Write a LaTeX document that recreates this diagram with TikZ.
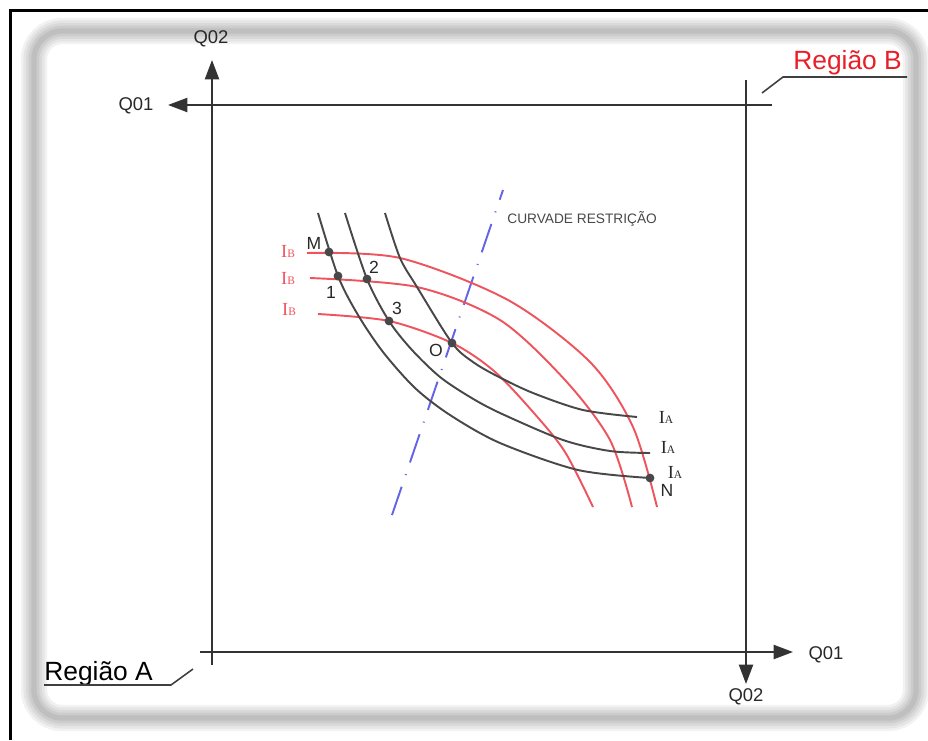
\documentclass[tikz,border=0pt]{standalone}
\usepackage{fontspec}
\setmainfont{Liberation Sans}
\newfontfamily\serifI{Liberation Serif}
\usetikzlibrary{arrows.meta}
\definecolor{redc}{RGB}{238,84,94}
\definecolor{redt}{RGB}{232,30,40}
\definecolor{darkc}{RGB}{72,72,72}
\definecolor{bluec}{RGB}{100,100,232}
\definecolor{txtc}{RGB}{40,40,40}
\tikzset{
  axis/.style={line width=1.1pt, black!80},
  arr/.style={-{Triangle[length=11pt,width=8pt]}},
  blk/.style={line width=1.1pt, darkc},
  redcurve/.style={line width=1.1pt, redc},
  lbl/.style={inner sep=0pt, text=txtc, font=\fontsize{10.5}{12}\selectfont},
  ptlbl/.style={inner sep=0pt, text=txtc, font=\fontsize{10}{12}\selectfont},
  reg/.style={inner sep=0pt, anchor=base west, font=\fontsize{15}{18}\selectfont},
  dotp/.style={circle, fill=darkc, inner sep=0pt, minimum size=5pt},
  ilbl/.style={inner sep=0pt, font=\serifI\fontsize{10.5}{12}\selectfont},
  restr/.style={line width=1.1pt, bluec, dash pattern=on 17pt off 7pt on 0.6pt off 7pt}
}
\begin{document}
\begin{tikzpicture}[x=0.02cm,y=-0.02cm]
\useasboundingbox (0,0) rectangle (928,740);
% shadow frame
\foreach \w/\c in {15pt/10,12pt/20,9pt/30,6pt/40,3pt/50}
  \draw[line width=\w, gray!\c, rounded corners=16] (34,31) rectangle (916,718);
% outer black border
\draw[line width=1.7pt] (10.5,740) -- (10.5,10.5) -- (928,10.5);

% axes
\coordinate (lb) at (212,665);
\coordinate (lt) at (212,60);
\coordinate (tr) at (772,105);
\coordinate (tl) at (168,105);
\coordinate (rt) at (746,80);
\coordinate (rb) at (746,684);
\coordinate (bl) at (200,652);
\coordinate (br) at (793,652);
\draw[axis,arr] (lb) -- (lt);
\draw[axis,arr] (tr) -- (tl);
\draw[axis,arr] (rt) -- (rb);
\draw[axis,arr] (bl) -- (br);
\node[lbl] (q2a) at (211,39) {Q02};
\node[lbl] (q1a) at (136,106) {Q01};
\node[lbl] (q2b) at (746,697) {Q02};
\node[lbl] (q1b) at (826,655) {Q01};

% region labels
\node[reg, text=black] (ra) at (44,680) {Região A};
\coordinate (ra1) at (44,685);
\coordinate (ra2) at (171,685);
\coordinate (ra3) at (193,669);
\draw[line width=0.9pt, black!75] (ra1) -- (ra2) -- (ra3);
\node[reg, text=redt] (rbn) at (793,70) {Região B};
\coordinate (rb1) at (907,77);
\coordinate (rb2) at (783,77);
\coordinate (rb3) at (762,93);
\draw[line width=0.9pt, black!75] (rb1) -- (rb2) -- (rb3);

% restriction line
\coordinate (cr1) at (392,515);
\coordinate (cr2) at (503,190);
\draw[restr] (cr1) -- (cr2);
\node[inner sep=0pt, anchor=west, text=darkc, font=\fontsize{7.8}{9}\selectfont] (crt) at (507,219) {CURVADE RESTRIÇÃO};

% red curves (IB)
\draw[redcurve] plot[smooth, tension=0.5] coordinates {(307,253) (400,258) (508,300) (590,362) (633,427) (657,507)};
\draw[redcurve] plot[smooth, tension=0.5] coordinates {(310,278) (417,287) (500,320) (565,380) (610,440) (632,507)};
\draw[redcurve] plot[smooth, tension=0.5] coordinates {(318,314) (389,321) (452,343) (494,371) (533,412) (565,452) (593,507)};

% black curves (IA)
\draw[blk] plot[smooth, tension=0.5] coordinates {(318,213) (338,276) (358,315) (383,352) (415,388) (450,415) (500,443) (578,470) (650,478)};
\draw[blk] plot[smooth, tension=0.5] coordinates {(345,213) (367,279) (389,321) (412,350) (440,377) (470,397) (500,413) (563,440) (610,451) (650,453)};
\draw[blk] plot[smooth, tension=0.5] coordinates {(385,213) (400,258) (417,287) (452,343) (473,362) (497,376) (533,393) (583,410) (637,417)};

% points
\node[dotp] (pM) at (329,252) {};
\node[dotp] (p1) at (338,276) {};
\node[dotp] (p2) at (367,279) {};
\node[dotp] (p3) at (389,321) {};
\node[dotp] (pO) at (452,343) {};
\node[dotp] (pN) at (650,478) {};
\node[ptlbl] (lM) at (314,243) {M};
\node[ptlbl] (l1) at (331,292) {1};
\node[ptlbl] (l2) at (374,267) {2};
\node[ptlbl] (l3) at (397,308) {3};
\node[ptlbl] (lO) at (436,350) {O};
\node[ptlbl] (lN) at (667,490) {N};

% IB labels
\node[ilbl, text=redc] (ib1) at (288,251) {I{\fontsize{6.5}{8}\selectfont B}};
\node[ilbl, text=redc] (ib2) at (288,278) {I{\fontsize{6.5}{8}\selectfont B}};
\node[ilbl, text=redc] (ib3) at (289,309) {I{\fontsize{6.5}{8}\selectfont B}};
% IA labels
\node[ilbl, text=txtc] (ia1) at (666,417) {I{\fontsize{6.5}{8}\selectfont A}};
\node[ilbl, text=txtc] (ia2) at (668,447) {I{\fontsize{6.5}{8}\selectfont A}};
\node[ilbl, text=txtc] (ia3) at (675,472) {I{\fontsize{6.5}{8}\selectfont A}};
\end{tikzpicture}
\end{document}
